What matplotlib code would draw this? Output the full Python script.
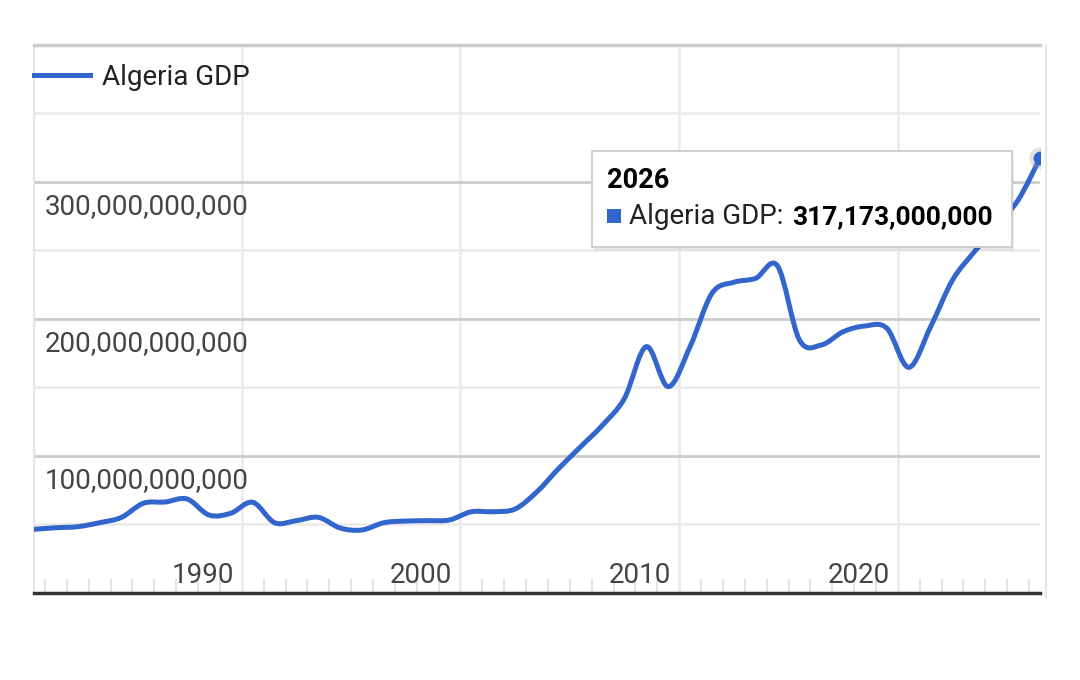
import numpy as np
import matplotlib
matplotlib.use('Agg')
import matplotlib.pyplot as plt
import matplotlib.transforms as mtransforms
from matplotlib.path import Path
from matplotlib.patches import PathPatch, Rectangle
from matplotlib.lines import Line2D

# data (billions of US$)
years = list(range(1980, 2027))
gdp_bn = [46.3, 47.4, 48.2, 51.1, 55.0, 65.3, 66.2, 68.4, 56.7, 58.0,
          66.0, 51.1, 52.6, 55.0, 47.2, 45.8, 51.1, 52.3, 52.6, 53.1,
          59.1, 59.1, 61.1, 73.7, 90.8, 106.6, 122.4, 141.9, 179.6, 150.4,
          179.6, 218.5, 226.6, 229.5, 238.5, 184.5, 180.8, 190.5, 194.7, 193.0,
          164.5, 194.2, 228.2, 248.9, 267.7, 286.6, 317.173]
series_name = "Algeria GDP"
label_years = [1990, 2000, 2010, 2020]
major_y = [100e9, 200e9, 300e9]
minor_y = [50e9, 150e9, 250e9, 350e9]

blue = '#3366cc'
plt.rcParams['font.family'] = ['Roboto', 'DejaVu Sans']

W, H = 1080, 680
fig = plt.figure(figsize=(W / 100, H / 100), dpi=100)
ax = fig.add_axes([34 / W, 1 - 592.7 / H, (1040 - 34) / W, (592.7 - 44.7) / H])

x = np.array(years) + 0.5     # points sit mid-year
y = np.array(gdp_bn) * 1e9

# smooth curve through the points (cubic bezier segments)
verts = [(x[0], y[0])]
codes = [Path.MOVETO]
n = len(x)
for i in range(n - 1):
    i0 = max(i - 1, 0)
    i2 = min(i + 2, n - 1)
    t1 = ((x[i + 1] - x[i0]) / 6, (y[i + 1] - y[i0]) / 6)
    t2 = ((x[i2] - x[i]) / 6, (y[i2] - y[i]) / 6)
    verts += [(x[i] + t1[0], y[i] + t1[1]),
              (x[i + 1] - t2[0], y[i + 1] - t2[1]),
              (x[i + 1], y[i + 1])]
    codes += [Path.CURVE4] * 3
ax.add_patch(PathPatch(Path(verts, codes), fc='none', ec=blue, lw=3.6,
                       capstyle='round', joinstyle='round', zorder=3))

# highlighted last point
ax.plot(x[-1], y[-1], 'o', ms=16, color='#9e9e9e', alpha=0.3, mec='none', zorder=4)
ax.plot(x[-1], y[-1], 'o', ms=10, color=blue, mec='none', zorder=5)

ax.set_xlim(1980.5, 2026.5)
ax.set_ylim(0, 400e9)

ax.set_xticks(label_years)
ax.set_xticks(range(1981, 2027), minor=True)
ax.set_yticks(major_y)
ax.set_yticks(minor_y, minor=True)
ax.grid(which='major', axis='y', color='#cccccc', lw=2)
ax.grid(which='minor', axis='y', color='#ebebeb', lw=2)
ax.grid(which='major', axis='x', color='#ebebeb', lw=2)
ax.set_axisbelow(True)
ax.tick_params(axis='y', which='both', length=0, labelleft=False)
ax.tick_params(axis='x', which='major', length=0, labelbottom=False)
ax.tick_params(axis='x', which='minor', direction='in', length=10, width=1.5, color='#e3e3e3')

ax.spines['top'].set_color('#cccccc')
ax.spines['top'].set_linewidth(2.5)
ax.spines['left'].set_color('#e6e6e6')
ax.spines['left'].set_linewidth(1.5)
ax.spines['right'].set_visible(False)
ax.spines['bottom'].set_color('#333333')
ax.spines['bottom'].set_linewidth(2.5)
ax.spines['bottom'].set_zorder(4)

# y labels inside the plot, under their gridline
ytrans = mtransforms.offset_copy(ax.get_yaxis_transform(), fig=fig, x=11, y=-32.6, units='dots')
for v in major_y:
    ax.text(0, v, f"{v:,.0f}", transform=ytrans, ha='left', va='baseline',
            fontsize=20, color='#444444')

# x labels left of their gridline
xtrans = mtransforms.offset_copy(ax.get_xaxis_transform(), fig=fig, x=-8, y=10, units='dots')
for yr in label_years:
    ax.text(yr, 0, str(yr), transform=xtrans, ha='right', va='baseline',
            fontsize=20, color='#444444')

# right frame line
fig.add_artist(Line2D([1046 / W, 1046 / W], [1 - 45 / H, 1 - 598 / H], color='#e6e6e6', lw=1.5))

# legend
fig.add_artist(Line2D([34 / W, 90 / W], [1 - 75 / H, 1 - 75 / H], color=blue, lw=3.6))
fig.text(101.7 / W, 1 - 85 / H, series_name, ha='left', va='baseline', fontsize=20, color='#222222')

# tooltip
fig.add_artist(Rectangle((594 / W, 1 - 250 / H), 420 / W, 96 / H, transform=fig.transFigure,
                         fc='#000000', alpha=0.08, ec='none', zorder=6))
fig.add_artist(Rectangle((592 / W, 1 - 247 / H), 420 / W, 96 / H, transform=fig.transFigure,
                         fc='white', ec='#cccccc', lw=1.3, zorder=7))
fig.text(607 / W, 1 - 188.3 / H, str(years[-1]), ha='left', va='baseline', fontsize=19.5,
         fontweight='bold', color='#000000', zorder=8)
fig.add_artist(Rectangle((607 / W, 1 - 223 / H), 13.5 / W, 13.5 / H, transform=fig.transFigure,
                         fc=blue, ec='none', zorder=8))
fig.text(629 / W, 1 - 224.3 / H, series_name + ":", ha='left', va='baseline', fontsize=20,
         color='#222222', zorder=8)
fig.text(792 / W, 1 - 224.3 / H, f"{y[-1]:,.0f}", ha='left', va='baseline', fontsize=19,
         fontweight='bold', color='#000000', zorder=8)

fig.savefig('out.png', dpi=100, facecolor='white')
